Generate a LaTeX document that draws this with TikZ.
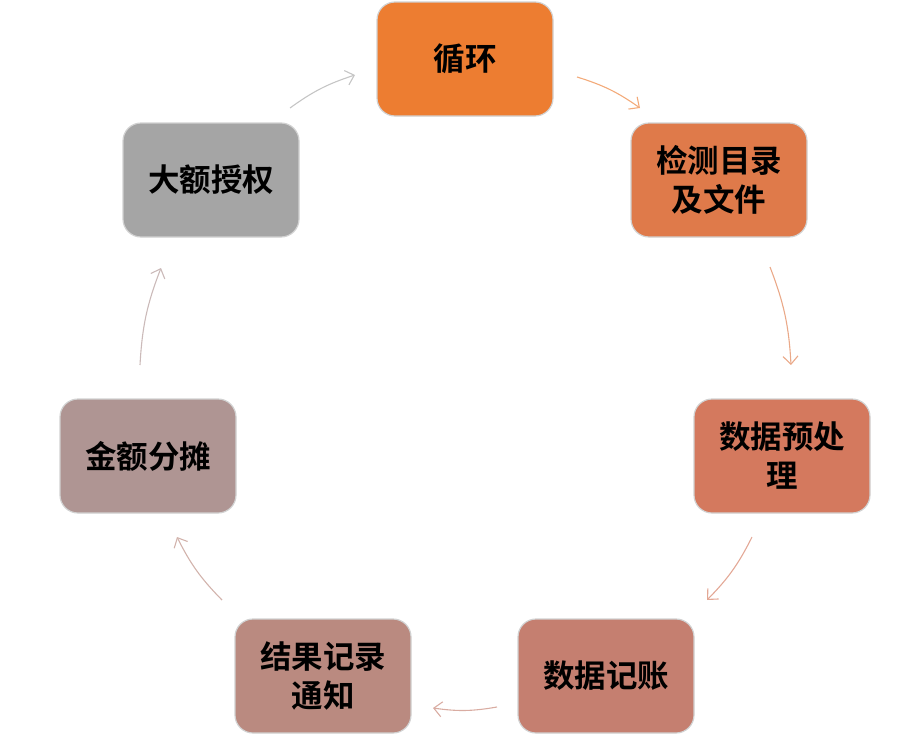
\documentclass[tikz,border=0pt]{standalone}
\usepackage{fontspec}
\newfontfamily\cjk{Noto Sans CJK SC}[BoldFont={Noto Sans CJK SC Bold}]
\usetikzlibrary{arrows.meta}
\definecolor{c1}{HTML}{ED7D31}
\definecolor{c2}{HTML}{DF7A4A}
\definecolor{c3}{HTML}{D4795E}
\definecolor{c4}{HTML}{C57F70}
\definecolor{c5}{HTML}{BA8A80}
\definecolor{c6}{HTML}{AF9593}
\definecolor{c7}{HTML}{A5A5A5}
\begin{document}
\begin{tikzpicture}[x=1pt,y=-1pt,
  box/.style={draw=white!82!black, line width=1.2pt, rounded corners=18pt,
    minimum width=176pt, minimum height=114pt, inner sep=0pt,
    align=center, font=\cjk\bfseries\fontsize{31.5}{39}\selectfont, text=black},
  conn/.style={line width=1.1pt, bend left=9,
    -{Straight Barb[length=8pt,width=15pt,line width=1.1pt]}}]
\useasboundingbox (0,0) rectangle (924,739);
\node[box, fill=c1] (n1) at (465,59) {循环};
\node[box, fill=c2] (n2) at (719,180) {检测目录\\及文件};
\node[box, fill=c3] (n3) at (782,456) {数据预处\\理};
\node[box, fill=c4] (n4) at (606,676) {数据记账};
\node[box, fill=c5] (n5) at (323,676) {结果记录\\通知};
\node[box, fill=c6] (n6) at (148,456) {金额分摊};
\node[box, fill=c7] (n7) at (211,180) {大额授权};
\coordinate (a1s) at (577,77);  \coordinate (a1e) at (640,108);
\coordinate (a2s) at (770,267); \coordinate (a2e) at (791,365);
\coordinate (a3s) at (752,537); \coordinate (a3e) at (707,600);
\coordinate (a4s) at (497,707); \coordinate (a4e) at (433,708);
\coordinate (a5s) at (222,600); \coordinate (a5e) at (177,537);
\coordinate (a6s) at (140,365); \coordinate (a6e) at (161,268);
\coordinate (a7s) at (290,108); \coordinate (a7e) at (355,75);
\draw[conn, draw=c1!65!white] (a1s) to (a1e);
\draw[conn, draw=c2!65!white] (a2s) to (a2e);
\draw[conn, draw=c3!65!white] (a3s) to (a3e);
\draw[conn, draw=c4!65!white] (a4s) to (a4e);
\draw[conn, draw=c5!65!white] (a5s) to (a5e);
\draw[conn, draw=c6!65!white] (a6s) to (a6e);
\draw[conn, draw=c7!65!white] (a7s) to (a7e);
\end{tikzpicture}
\end{document}
